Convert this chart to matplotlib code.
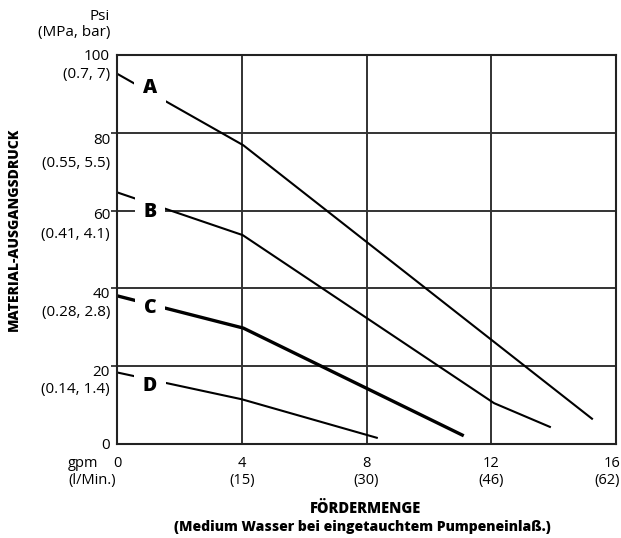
import matplotlib
matplotlib.use("Agg")
import matplotlib.pyplot as plt

plt.rcParams['font.family'] = ['Open Sans', 'DejaVu Sans']

# Kennlinien (x = gpm, y = psi)
a_x = [0, 4.05, 15.23]
a_y = [95.2, 76.8, 6.5]
b_x = [0, 4.03, 12.09, 13.88]
b_y = [64.7, 53.7, 10.5, 4.4]
c_x = [0, 4.05, 11.07]
c_y = [38.1, 29.8, 2.3]
d_x = [0, 4.0, 8.33]
d_y = [18.4, 11.5, 1.6]

kurven = ["A", "B", "C", "D"]
label_x = [1.06, 1.06, 1.06, 1.06]
label_y = [91.4, 59.7, 35.0, 14.9]

# Achsbeschriftungen
psi_ticks = [100, 80, 60, 40, 20, 0]
psi_pos = [98.8, 77.0, 57.9, 37.6, 17.5, -1.3]
mpa_labels = ["(0.7, 7)", "(0.55, 5.5)", "(0.41, 4.1)", "(0.28, 2.8)", "(0.14, 1.4)"]
mpa_pos = [94.2, 71.3, 53.0, 32.9, 13.1]
gpm_ticks = [0, 4, 8, 12, 16]
lmin_labels = ["", "(15)", "(30)", "(46)", "(62)"]

fig = plt.figure(figsize=(6.21, 5.38), dpi=100)
ax = fig.add_axes([117/621, 94/538, 499/621, 389/538])
ax.set_xlim(0, 16)
ax.set_ylim(0, 100)

# Gitter
for gx in [4, 8, 12]:
    ax.axvline(gx, color='#222222', lw=1.3, zorder=1)
for gy in [20, 40, 60, 80]:
    ax.axhline(gy, color='#333333', lw=1.4, zorder=1)
for sp in ax.spines.values():
    sp.set_linewidth(1.5)
    sp.set_color('#222222')

ax.set_xticks([])
ax.set_yticks([20, 40, 60, 80])
ax.tick_params(axis='y', length=4, width=1.3, color='#333333', labelleft=False)

ax.plot(a_x, a_y, color='black', lw=1.5, zorder=2)
ax.plot(b_x, b_y, color='black', lw=1.5, zorder=2)
ax.plot(c_x, c_y, color='black', lw=2.4, zorder=2)
ax.plot(d_x, d_y, color='black', lw=1.5, zorder=2)

for k, lx, ly in zip(kurven, label_x, label_y):
    ax.text(lx, ly, k, fontsize=14, fontweight='heavy', ha='center', va='center',
            zorder=3, bbox=dict(boxstyle='square,pad=0.45', fc='white', ec='none'))

# y-Beschriftung links
ytr = ax.get_yaxis_transform()
for t, p in zip(psi_ticks, psi_pos):
    ax.text(-0.014, p, str(t), transform=ytr, ha='right', va='baseline',
            fontsize=11, clip_on=False)
for t, p in zip(mpa_labels, mpa_pos):
    ax.text(-0.014, p, t, transform=ytr, ha='right', va='baseline',
            fontsize=11, clip_on=False)
ax.text(-0.014, 109.1, "Psi", transform=ytr, ha='right', va='baseline',
        fontsize=11, clip_on=False)
ax.text(-0.014, 105.0, "(MPa, bar)", transform=ytr, ha='right', va='baseline',
        fontsize=11, clip_on=False)

# x-Beschriftung unten
xtr = ax.get_xaxis_transform()
row1, row2 = -0.0591, -0.1028
for t, l in zip(gpm_ticks, lmin_labels):
    xx = t
    ha = 'center'
    if t == 16:
        xx, ha = 16.13, 'right'
    ax.text(xx, row1, str(t), transform=xtr, ha=ha, va='baseline',
            fontsize=10.5, clip_on=False)
    if l:
        ax.text(xx, row2, l, transform=xtr, ha=ha, va='baseline',
                fontsize=10.5, clip_on=False)
ax.text(-1.57, row1, "gpm", transform=xtr, ha='left', va='baseline',
        fontsize=10.5, clip_on=False)
ax.text(-1.57, row2, "(l/Min.)", transform=xtr, ha='left', va='baseline',
        fontsize=10.5, clip_on=False)

fig.text(366/621, 1 - 513/538, "FÖRDERMENGE", ha='center', va='baseline',
         fontsize=10.5, fontweight='heavy')
fig.text(362/621, 1 - 531/538, "(Medium Wasser bei eingetauchtem Pumpeneinlaß.)",
         ha='center', va='baseline', fontsize=10, fontweight='heavy')
fig.text(14/621, 1 - 229/538, "MATERIAL-AUSGANGSDRUCK", rotation=90,
         ha='center', va='center', fontsize=10, fontweight='heavy')

fig.savefig("out.png", dpi=100)
